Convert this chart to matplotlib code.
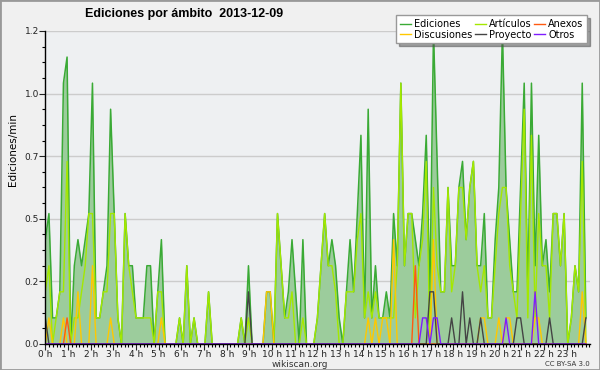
import matplotlib
matplotlib.use("Agg")
import matplotlib.pyplot as plt
from matplotlib.patches import Rectangle
from matplotlib.ticker import MultipleLocator, FixedLocator
import numpy as np

# edits per 9.6-minute bin (150 bins over the day)
bin_minutes = 9.6

ediciones = [
    4, 5, 1, 1, 2, 10, 11, 0, 3, 4, 3, 4, 5, 10, 1, 1, 2, 3, 9, 5, 1, 0, 5, 3, 3,
    1, 1, 1, 3, 3, 0, 2, 4, 0, 0, 0, 0, 1, 0, 3, 0, 1, 0, 0, 0, 2, 0, 0, 0, 0,
    0, 0, 0, 0, 1, 0, 3, 0, 0, 0, 0, 2, 2, 0, 5, 3, 1, 2, 4, 2, 0, 4, 0, 0, 0,
    1, 3, 5, 3, 4, 3, 1, 0, 2, 4, 2, 5, 8, 1, 9, 1, 3, 1, 1, 2, 1, 5, 3, 10, 3,
    5, 5, 4, 3, 5, 8, 2, 12, 7, 2, 2, 6, 3, 3, 6, 7, 4, 6, 7, 3, 3, 5, 1, 1, 4,
    6, 12, 6, 4, 2, 2, 6, 10, 2, 10, 3, 8, 3, 4, 2, 5, 5, 3, 5, 0, 1, 3, 2, 10, 1,
]
articulos = [
    2, 3, 0, 1, 2, 2, 7, 0, 1, 1, 2, 3, 5, 5, 1, 1, 2, 2, 5, 5, 1, 0, 5, 3, 2,
    1, 1, 1, 1, 1, 0, 2, 2, 0, 0, 0, 0, 1, 0, 3, 0, 1, 0, 0, 0, 2, 0, 0, 0, 0,
    0, 0, 0, 0, 1, 0, 1, 0, 0, 0, 0, 0, 0, 0, 5, 3, 1, 1, 2, 0, 0, 1, 0, 0, 0,
    1, 3, 5, 3, 3, 2, 0, 0, 2, 2, 2, 4, 5, 1, 2, 1, 2, 1, 1, 1, 1, 1, 3, 10, 3,
    5, 5, 1, 3, 4, 7, 0, 6, 3, 2, 2, 6, 2, 3, 6, 6, 4, 6, 7, 3, 2, 3, 1, 1, 3,
    5, 6, 6, 3, 2, 1, 5, 9, 1, 8, 1, 5, 3, 3, 1, 5, 5, 3, 5, 0, 1, 3, 2, 7, 0,
]
discusiones = [
    0, 1, 0, 0, 0, 1, 0, 0, 0, 2, 0, 0, 0, 3, 0, 0, 0, 0, 1, 0, 0, 0, 0, 0, 0,
    0, 0, 0, 0, 0, 0, 0, 1, 0, 0, 0, 0, 0, 0, 0, 0, 0, 0, 0, 0, 0, 0, 0, 0, 0,
    0, 0, 0, 0, 0, 0, 0, 0, 0, 0, 0, 2, 2, 0, 0, 0, 0, 0, 0, 0, 0, 0, 0, 0, 0,
    0, 0, 0, 0, 0, 0, 0, 0, 0, 0, 0, 0, 0, 0, 1, 0, 1, 0, 1, 1, 0, 4, 0, 0, 0,
    0, 0, 0, 0, 0, 0, 0, 4, 0, 0, 0, 0, 0, 0, 0, 0, 0, 0, 0, 0, 1, 1, 0, 0, 0,
    1, 0, 1, 1, 0, 0, 0, 0, 0, 0, 1, 1, 0, 0, 0, 0, 0, 0, 0, 0, 0, 0, 0, 2, 0,
]
proyecto = [
    1, 0, 0, 0, 0, 0, 0, 0, 0, 0, 0, 0, 0, 0, 0, 0, 0, 0, 0, 0, 0, 0, 0, 0, 0,
    0, 0, 0, 0, 0, 0, 0, 0, 0, 0, 0, 0, 0, 0, 0, 0, 0, 0, 0, 0, 0, 0, 0, 0, 0,
    0, 0, 0, 0, 0, 0, 2, 0, 0, 0, 0, 0, 0, 0, 0, 0, 0, 0, 0, 0, 0, 0, 0, 0, 0,
    0, 0, 0, 0, 0, 0, 0, 0, 0, 0, 0, 0, 0, 0, 0, 0, 0, 0, 0, 0, 0, 0, 0, 0, 0,
    0, 0, 0, 0, 0, 0, 2, 2, 0, 0, 0, 0, 1, 0, 0, 2, 0, 1, 0, 0, 1, 0, 0, 0, 0,
    0, 0, 0, 0, 0, 1, 1, 0, 0, 0, 0, 0, 0, 0, 1, 0, 0, 0, 0, 0, 0, 0, 0, 0, 1,
]
anexos = [
    0, 0, 0, 0, 0, 0, 1, 0, 0, 0, 0, 0, 0, 0, 0, 0, 0, 0, 0, 0, 0, 0, 0, 0, 0,
    0, 0, 0, 0, 0, 0, 0, 0, 0, 0, 0, 0, 0, 0, 0, 0, 0, 0, 0, 0, 0, 0, 0, 0, 0,
    0, 0, 0, 0, 0, 0, 0, 0, 0, 0, 0, 0, 0, 0, 0, 0, 0, 0, 0, 0, 0, 0, 0, 0, 0,
    0, 0, 0, 0, 0, 0, 0, 0, 0, 0, 0, 0, 0, 0, 0, 0, 0, 0, 0, 0, 0, 0, 0, 0, 0,
    0, 0, 3, 0, 0, 0, 0, 0, 0, 0, 0, 0, 0, 0, 0, 0, 0, 0, 0, 0, 0, 0, 0, 0, 0,
    0, 0, 0, 0, 0, 0, 0, 0, 0, 0, 0, 0, 0, 0, 0, 0, 0, 0, 0, 0, 0, 0, 0, 0, 0,
]
otros = [
    0, 0, 0, 0, 0, 0, 0, 0, 0, 0, 0, 0, 0, 0, 0, 0, 0, 0, 0, 0, 0, 0, 0, 0, 0,
    0, 0, 0, 0, 0, 0, 0, 0, 0, 0, 0, 0, 0, 0, 0, 0, 0, 0, 0, 0, 0, 0, 0, 0, 0,
    0, 0, 0, 0, 0, 0, 0, 0, 0, 0, 0, 0, 0, 0, 0, 0, 0, 0, 0, 0, 0, 0, 0, 0, 0,
    0, 0, 0, 0, 0, 0, 0, 0, 0, 0, 0, 0, 0, 0, 0, 0, 0, 0, 0, 0, 0, 0, 0, 0, 0,
    0, 0, 0, 0, 1, 1, 0, 1, 1, 0, 0, 0, 0, 0, 0, 0, 0, 0, 0, 0, 0, 0, 0, 0, 0,
    0, 0, 1, 0, 0, 0, 0, 0, 0, 0, 2, 0, 0, 0, 0, 0, 0, 0, 0, 0, 0, 0, 0, 0, 0,
]

y_ticks = [0, 0.25, 0.5, 0.75, 1.0, 1.25]
y_tick_labels = ["0.0", "0.2", "0.5", "0.7", "1.0", "1.2"]
hour_labels = [f"{h} h" for h in range(24)]

hours = np.arange(len(ediciones)) * bin_minutes / 60.0


def rate(counts):
    return np.array(counts) / bin_minutes


fig = plt.figure(figsize=(6, 3.7), dpi=100, facecolor="#f0f0f0")
fig.patches.append(Rectangle((0, 0), 1, 1, transform=fig.transFigure, fill=False,
                             edgecolor="#999999", linewidth=2))
ax = fig.add_axes([0.0755, 0.0703, 0.907, 0.846], facecolor="#eef0f2")

ax.fill_between(hours, rate(ediciones), color="#9ccc9c", linewidth=0)
l_ed, = ax.plot(hours, rate(ediciones), color="#3aaa35", lw=1.1, label="Ediciones")
l_art, = ax.plot(hours, rate(articulos), color="#a4e800", lw=1.0, label="Artículos")
l_dis, = ax.plot(hours, rate(discusiones), color="#ffc800", lw=1.0, label="Discusiones")
l_anx, = ax.plot(hours, rate(anexos), color="#ff5a10", lw=1.0, label="Anexos")
l_pro, = ax.plot(hours, rate(proyecto), color="#444444", lw=1.0, label="Proyecto")
l_otr, = ax.plot(hours, rate(otros), color="#7f1cff", lw=1.0, label="Otros")

ax.set_xlim(0, 24)
ax.set_ylim(0, 1.25)
ax.xaxis.set_major_locator(FixedLocator(range(24)))
ax.set_xticklabels(hour_labels)
ax.xaxis.set_minor_locator(MultipleLocator(1 / 6))
ax.yaxis.set_major_locator(FixedLocator(y_ticks))
ax.set_yticklabels(y_tick_labels)
ax.yaxis.set_minor_locator(MultipleLocator(0.0625))
ax.tick_params(axis="both", which="major", labelsize=6.5, colors="#222222", length=4, width=0.8, pad=0.5)
ax.tick_params(axis="both", which="minor", length=2.5, width=0.8)
ax.grid(axis="y", which="major", color="#cccccc", linewidth=1)
ax.set_axisbelow(True)
for side in ("top", "right"):
    ax.spines[side].set_visible(False)
for side in ("left", "bottom"):
    ax.spines[side].set_linewidth(1)
    ax.spines[side].set_zorder(5)

fig.text(0.142, 0.962, "Ediciones por ámbito  2013-12-09", fontsize=9,
         family="Liberation Sans", fontweight="bold", va="center", ha="left")
fig.text(0.022, 0.595, "Ediciones/min", rotation=90, fontsize=7.5, va="center", ha="center")
fig.text(0.5, 0.016, "wikiscan.org", fontsize=6.5, ha="center", va="center", color="#333333")
fig.text(0.983, 0.016, "CC BY-SA 3.0", fontsize=5, ha="right", va="center", color="#333333")

leg = fig.legend(handles=[l_ed, l_dis, l_art, l_pro, l_anx, l_otr], ncol=3,
                 loc="upper right", bbox_to_anchor=(0.987, 0.972), fontsize=7,
                 handlelength=1.1, handletextpad=0.35, columnspacing=0.25,
                 labelspacing=0.05, borderpad=0.4, fancybox=False, shadow=True,
                 framealpha=1, edgecolor="#999999")
for line in leg.get_lines():
    line.set_linewidth(1)

fig.savefig("out.png", dpi=100, facecolor=fig.get_facecolor())
